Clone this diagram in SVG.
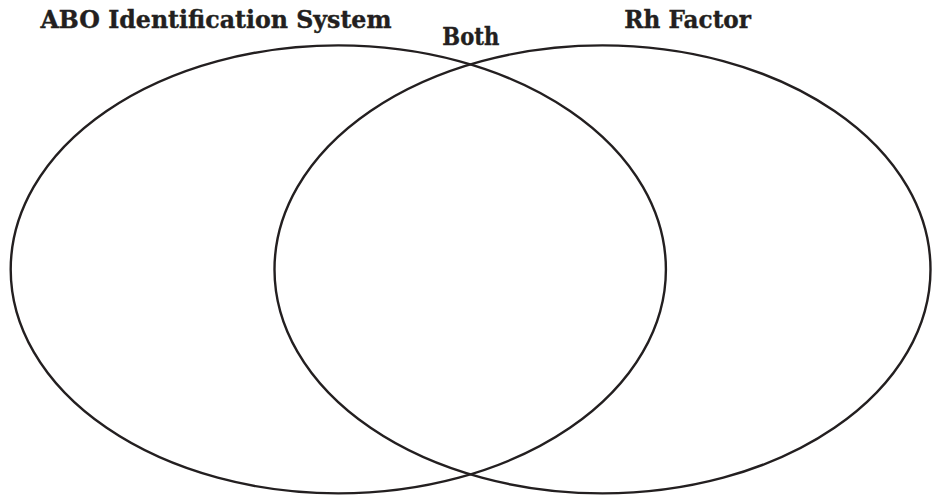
<svg xmlns="http://www.w3.org/2000/svg" width="939" height="497" viewBox="0 0 939 497">
  <style>
    .set { fill: none; stroke: #231f20; stroke-width: 2.4; }
    .label { font-family: "DejaVu Serif", "Liberation Serif", serif; font-weight: bold; font-size: 25px; fill: #231f20; stroke: #231f20; stroke-width: 0.4; }
  </style>
  <rect width="939" height="497" fill="#ffffff"/>
  <g id="abo">
    <ellipse class="set" cx="338.3" cy="269.4" rx="327.6" ry="224"/>
    <text class="label" x="40.5" y="27.5" textLength="351" lengthAdjust="spacingAndGlyphs">ABO Identification System</text>
  </g>
  <g id="rh">
    <ellipse class="set" cx="602.5" cy="269.4" rx="328" ry="224"/>
    <text class="label" x="624.3" y="28.3" textLength="126.7" lengthAdjust="spacingAndGlyphs">Rh Factor</text>
  </g>
  <g id="both">
    <text class="label" x="442.3" y="45.3" textLength="57" lengthAdjust="spacingAndGlyphs">Both</text>
  </g>
  <g id="connectors"></g>
</svg>
